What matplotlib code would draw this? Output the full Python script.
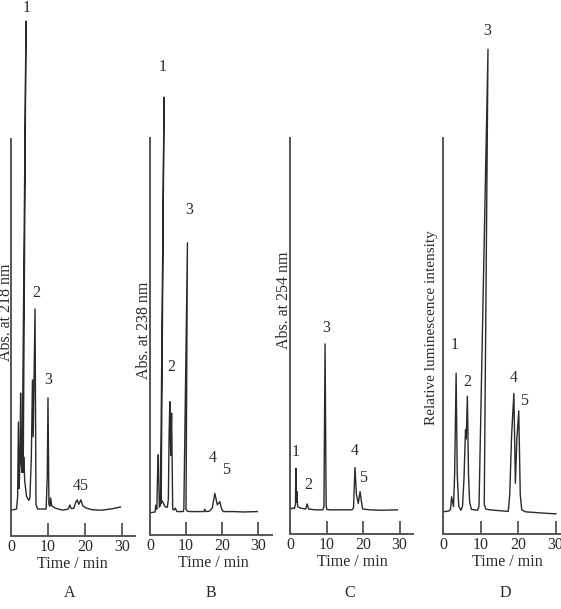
import matplotlib
matplotlib.use("Agg")
import matplotlib.pyplot as plt

plt.rcParams['font.family'] = ['Liberation Serif', 'DejaVu Serif']

# ---------------- data (time in min, signal in arbitrary units) ----------------
A_t = [0, 1.5, 1.8, 2.0, 2.2, 2.45, 2.6, 2.8, 3.0, 4.05, 3.3, 3.45, 3.7, 4.2, 4.8, 5.1, 5.5, 5.8, 6.0,
       6.5, 6.75, 7.2, 9.5, 9.8, 10.0, 10.25, 10.5, 10.7, 11.0, 12, 14, 15.5, 15.9, 16.3, 17.0, 17.5,
       17.9, 18.3, 18.9, 19.4, 20.4, 22, 24.4, 27, 29.6]
A_y = [6.5, 6.8, 10, 28.7, 12, 20, 36.0, 18, 16, 129.7, 16, 19.9, 14, 10, 9.0, 9.5, 20, 39.3, 25,
       57.2, 8, 6.8, 6.8, 15, 34.8, 8, 7.5, 9.6, 7.6, 7.0, 6.5, 6.8, 7.8, 6.9, 7.0, 8.5,
       9.1, 8.0, 9.1, 7.6, 7.0, 6.6, 6.5, 6.8, 7.3]

B_t = [0, 1.4, 1.6, 1.9, 2.1, 2.3, 2.6, 2.9, 3.9, 3.1, 3.2, 3.6, 4.2, 4.8, 5.1, 5.3, 5.5, 5.75, 6.0,
       6.3, 6.7, 7.0, 7.5, 9.2, 9.4, 10.4, 10.0, 10.4, 11, 15.0, 15.2, 15.5, 16.5, 17.3, 18.0, 18.7,
       19.4, 19.9, 20.4, 23, 26, 29.8]
B_y = [5.6, 5.8, 7.5, 6.5, 15, 20.2, 7, 7.5, 110.3, 8, 8.8, 8.2, 7.1, 7.0, 9, 25, 33.6, 20, 30.7,
       6.5, 6.3, 6.8, 5.9, 5.9, 6.5, 73.6, 6.5, 6.0, 5.9, 5.9, 6.5, 5.9, 6.0, 6.8, 10.5, 7.6,
       8.4, 6.5, 5.9, 5.9, 5.8, 5.9]

C_t = [0, 0.7, 1.2, 1.5, 1.6, 1.75, 1.9, 2.1, 3.0, 4.3, 4.7, 5.1, 7, 9.0, 9.3, 9.6, 9.9, 10.1,
       11, 14, 17.0, 17.4, 17.8, 18.2, 18.7, 19.2, 19.6, 19.9, 22, 25, 29.4]
C_y = [6.1, 6.6, 6.4, 7.5, 16.6, 8.0, 10.7, 6.9, 6.5, 6.3, 7.6, 6.3, 6.1, 6.1, 7.0, 48.0, 7.0, 6.2,
       6.1, 6.1, 6.1, 6.6, 16.8, 10, 7.7, 10.7, 8, 6.3, 6.1, 6.0, 6.1]

D_t = [0, 1.5, 2.0, 2.3, 2.8, 3.1, 3.5, 3.8, 4.2, 4.8, 5.2, 5.6, 6.0, 6.2, 6.5, 6.8, 7.1, 7.6,
       9.2, 9.6, 12.0, 11.0, 11.4, 12.5, 15, 17.4, 17.8, 18.3, 18.9, 19.3, 19.7, 20.2, 20.6, 21.0,
       22, 25, 28, 30.1]
D_y = [5.6, 5.8, 6.2, 9.4, 6.9, 15, 40.6, 15, 7, 6.0, 7, 14, 26.3, 24, 34.8, 15, 8, 6.2,
       6.0, 7.0, 122.4, 7.5, 6.3, 6.1, 5.9, 5.7, 10, 25, 35.5, 12.8, 24, 31.1, 10, 6.1,
       5.6, 5.4, 5.2, 5.1]

# peak labels: (text, time, signal)
A_lab = [("1", 4.3, 133.0), ("2", 6.8, 61.2), ("3", 10.0, 39.3), ("45", 18.9, 12.6)]
B_lab = [("1", 3.6, 117.9), ("3", 10.8, 81.9), ("2", 5.8, 42.3), ("4", 17.5, 19.4), ("5", 21.1, 16.4)]
C_lab = [("1", 1.6, 20.7), ("2", 4.9, 12.4), ("3", 9.9, 52.0), ("4", 17.8, 21.0), ("5", 20.0, 14.1)]
D_lab = [("1", 3.2, 47.7), ("2", 6.4, 38.4), ("3", 11.7, 127.0), ("4", 18.9, 39.4), ("5", 21.6, 33.6)]

ylabels = ["Abs. at 218 nm", "Abs. at 238 nm", "Abs. at 254 nm", "Relative luminescence intensity"]
letters = ["A", "B", "C", "D"]
xticks = [0, 10, 20, 30]

# ---------------- layout (pixels) ----------------
W, H = 561, 609
fig = plt.figure(figsize=(W / 100, H / 100), dpi=100)
fig.patch.set_facecolor("white")

# x0, ybottom, ytop, px per min, xmax
geo = [(11, 536, 139, 3.7, 33.5),
       (150, 535, 138, 3.6, 34.0),
       (290, 534, 138, 3.65, 33.6),
       (443, 534, 138, 3.75, 31.5)]
ylab_pos = [(6, 312), (144, 330), (284, 300), (432, 328)]
ylab_fs = [11.5, 11.5, 11.5, 11]
letter_x = [70, 211, 350, 505]

series = [(A_t, A_y, A_lab), (B_t, B_y, B_lab), (C_t, C_y, C_lab), (D_t, D_y, D_lab)]
ink = "#2a2a2a"
fs = 11.5

for i, ((x0, yb, yt, ppm, xmax), (t, y, labs)) in enumerate(zip(geo, series)):
    ax = fig.add_axes([x0 / W, 1 - yb / H, xmax * ppm / W, (yb - yt) / H])
    ax.set_xlim(0, xmax)
    ax.set_ylim(0, 100)
    ax.patch.set_alpha(0)
    for s in ("top", "right"):
        ax.spines[s].set_visible(False)
    for s in ("left", "bottom"):
        ax.spines[s].set_color("#555555")
        ax.spines[s].set_linewidth(1.4)
    ax.set_yticks([])
    ax.set_xticks(xticks)
    ax.tick_params(axis="x", direction="in", length=9.5, width=1.3, color="#555555",
                   pad=2.5, labelsize=fs, labelcolor=ink)
    ax.plot(t, y, color=ink, lw=1.0, clip_on=False)
    for s, tx, ty in labs:
        ax.text(tx, ty, s, ha="center", va="center", fontsize=fs, color=ink, clip_on=False)
    ax.set_xlabel("Time / min", fontsize=fs, color=ink, labelpad=2)
    ax.xaxis.set_label_coords(((letter_x[i] + 2) - x0) / (xmax * ppm), -0.05)
    fig.text(ylab_pos[i][0] / W, 1 - ylab_pos[i][1] / H, ylabels[i], rotation=90,
             ha="center", va="center", fontsize=ylab_fs[i], color=ink)
    fig.text(letter_x[i] / W, 1 - 593 / H, letters[i], ha="center", va="center",
             fontsize=fs, color=ink)

fig.savefig("out.png", dpi=100)
